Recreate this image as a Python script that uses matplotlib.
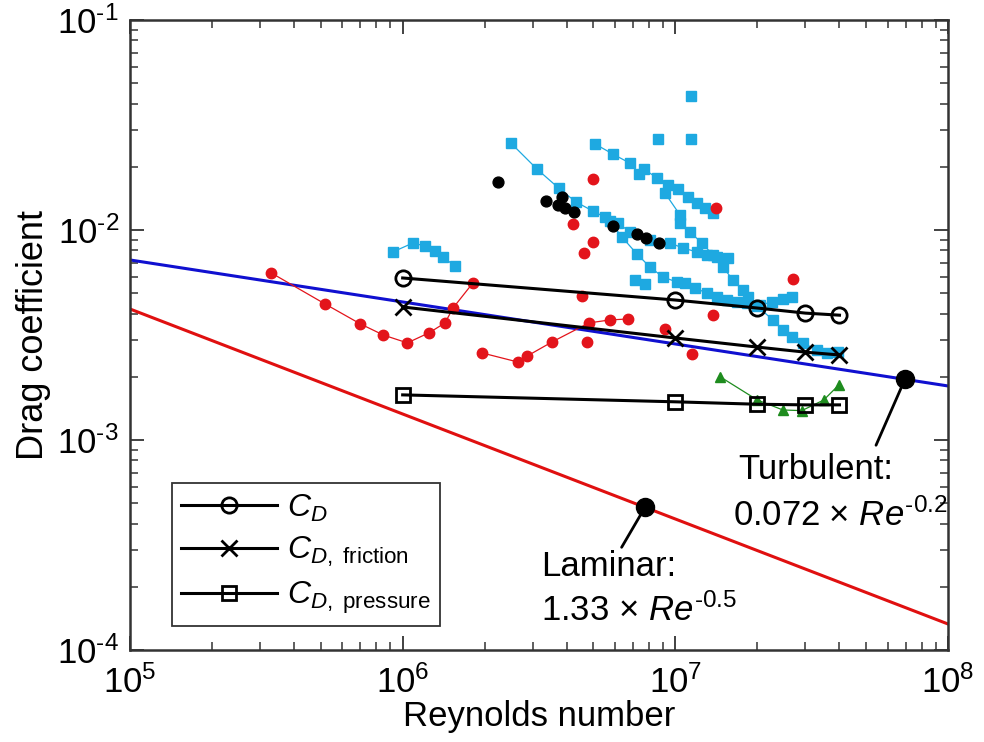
import numpy as np
import matplotlib
matplotlib.use('Agg')
import matplotlib.pyplot as plt
from matplotlib.ticker import LogLocator, FuncFormatter, NullFormatter

plt.rcParams['font.family'] = ['Liberation Sans', 'DejaVu Sans']
plt.rcParams['mathtext.fontset'] = 'custom'
plt.rcParams['mathtext.rm'] = 'Liberation Sans'
plt.rcParams['mathtext.it'] = 'Liberation Sans:italic'
plt.rcParams['mathtext.bf'] = 'Liberation Sans:bold'

# ---------------- data ----------------
re_cd = [1e6, 1e7, 2e7, 3e7, 4e7]
cd_total = [5.91e-3, 4.64e-3, 4.25e-3, 4.02e-3, 3.93e-3]
cd_friction = [4.30e-3, 3.06e-3, 2.77e-3, 2.62e-3, 2.54e-3]
cd_pressure = [1.64e-3, 1.52e-3, 1.48e-3, 1.47e-3, 1.47e-3]

# theory lines
re_range = [1e5, 1e8]
turb_coef, turb_exp = 0.072, -0.2
lam_coef, lam_exp = 1.33, -0.5
re_turb_mark = 6.95e7
re_lam_mark = 7.74e6

# red circles (connected series)
red_a_re = [3.3e5, 5.2e5, 7.0e5, 8.5e5, 1.04e6, 1.25e6, 1.43e6, 1.53e6, 1.81e6]
red_a_cd = [6.24e-3, 4.44e-3, 3.57e-3, 3.16e-3, 2.90e-3, 3.24e-3, 3.61e-3, 4.25e-3, 5.6e-3]
red_b_re = [1.95e6, 2.65e6, 2.86e6, 3.53e6, 4.82e6, 5.75e6, 6.70e6]
red_b_cd = [2.60e-3, 2.35e-3, 2.51e-3, 2.93e-3, 3.61e-3, 3.73e-3, 3.77e-3]
# red circles (isolated)
red_c_re = [4.99e6, 4.21e6, 4.99e6, 4.62e6, 4.54e6, 4.74e6, 9.16e6, 1.15e7, 1.37e7, 1.41e7, 2.70e7]
red_c_cd = [1.75e-2, 1.07e-2, 8.77e-3, 7.77e-3, 4.85e-3, 2.93e-3, 3.38e-3, 2.57e-3, 3.94e-3, 1.27e-2, 5.84e-3]

# black filled circles
blk_re = [2.24e6, 3.35e6, 3.84e6, 3.71e6, 3.94e6, 4.25e6, 5.90e6, 7.23e6, 7.80e6, 8.71e6]
blk_cd = [1.69e-2, 1.37e-2, 1.44e-2, 1.32e-2, 1.27e-2, 1.22e-2, 1.04e-2, 9.57e-3, 9.16e-3, 8.67e-3]

# green triangles
grn_re = [1.46e7, 2.0e7, 2.48e7, 2.91e7, 3.5e7, 3.98e7]
grn_cd = [2.0e-3, 1.55e-3, 1.39e-3, 1.38e-3, 1.55e-3, 1.83e-3]

# cyan squares
cy1_re = [9.2e5, 1.09e6, 1.21e6, 1.31e6, 1.41e6, 1.55e6]
cy1_cd = [7.86e-3, 8.67e-3, 8.39e-3, 7.94e-3, 7.43e-3, 6.74e-3]
cy2_re = [2.49e6, 3.11e6, 3.74e6, 4.32e6, 4.99e6, 5.52e6, 6.16e6, 6.82e6, 8.07e6, 9.55e6,
          1.066e7, 1.20e7, 1.306e7, 1.42e7, 1.56e7]
cy2_cd = [2.60e-2, 1.95e-2, 1.58e-2, 1.36e-2, 1.23e-2, 1.15e-2, 1.08e-2, 9.78e-3, 8.96e-3, 8.67e-3,
          8.21e-3, 7.86e-3, 7.60e-3, 7.43e-3, 7.35e-3]
cy3_re = [5.07e6, 5.90e6, 6.82e6, 7.36e6, 7.67e6, 8.56e6, 9.40e6, 1.022e7, 1.112e7, 1.20e7, 1.284e7, 1.374e7]
cy3_cd = [2.57e-2, 2.30e-2, 2.08e-2, 1.85e-2, 1.95e-2, 1.77e-2, 1.64e-2, 1.57e-2, 1.44e-2, 1.34e-2, 1.27e-2, 1.21e-2]
cy4_re = [9.16e6, 1.04e7, 1.04e7, 1.131e7, 1.252e7, 1.374e7, 1.495e7, 1.627e7, 1.77e7, 1.846e7,
          1.99e7, 2.28e7, 2.48e7, 2.68e7, 2.94e7, 3.31e7, 3.60e7, 3.95e7]
cy4_cd = [1.50e-2, 1.18e-2, 1.08e-2, 9.78e-3, 8.67e-3, 7.60e-3, 6.66e-3, 5.78e-3, 5.18e-3, 4.80e-3,
          4.35e-3, 3.73e-3, 3.34e-3, 3.09e-3, 2.90e-3, 2.68e-3, 2.60e-3, 2.62e-3]
cy5_re = [5.76e6, 6.37e6, 7.23e6, 8.07e6, 9.01e6, 1.014e7, 1.084e7, 1.18e7, 1.306e7, 1.42e7,
          1.546e7, 1.683e7, 1.83e7, 2.04e7, 2.26e7, 2.48e7, 2.68e7]
cy5_cd = [1.10e-2, 9.26e-3, 7.69e-3, 6.66e-3, 5.97e-3, 5.65e-3, 5.59e-3, 5.29e-3, 5.01e-3, 4.80e-3,
          4.64e-3, 4.54e-3, 4.49e-3, 4.39e-3, 4.54e-3, 4.69e-3, 4.80e-3]
cy6_re = [7.11e6, 7.74e6]
cy6_cd = [5.78e-3, 5.53e-3]
cy7_re = [1.141e7, 8.64e6, 1.141e7]
cy7_cd = [4.35e-2, 2.71e-2, 2.71e-2]

# ---------------- plot ----------------
fig = plt.figure(figsize=(9.84, 7.42), dpi=100)
ax = fig.add_axes([130/984, 92/742, 818/984, 630/742])
ax.set_xscale('log')
ax.set_yscale('log')
ax.set_xlim(1e5, 1e8)
ax.set_ylim(1e-4, 1e-1)

re_r = np.array(re_range)
ax.plot(re_r, turb_coef * re_r**turb_exp, color='#1010d0', lw=2.2, zorder=2)
ax.plot(re_r, lam_coef * re_r**lam_exp, color='#e01010', lw=2.2, zorder=2)

cyan = '#1ea9e1'
for xs, ys in [(cy1_re, cy1_cd), (cy2_re, cy2_cd), (cy3_re, cy3_cd), (cy4_re, cy4_cd),
               (cy5_re, cy5_cd), (cy6_re, cy6_cd)]:
    ax.plot(xs, ys, '-', color=cyan, lw=0.9, marker='s', ms=7.8, mec=cyan, mfc=cyan, zorder=3)
ax.plot(cy7_re, cy7_cd, 's', color=cyan, ms=7.8, zorder=3, ls='none')

red = '#e3141b'
ax.plot(red_a_re, red_a_cd, '-', color=red, lw=0.9, marker='o', ms=7.5, mec=red, mfc=red, zorder=4)
ax.plot(red_b_re, red_b_cd, '-', color=red, lw=0.9, marker='o', ms=7.5, mec=red, mfc=red, zorder=4)
ax.plot(red_c_re, red_c_cd, 'o', color=red, ms=7.5, ls='none', zorder=4)

ax.plot(blk_re, blk_cd, 'o', color='black', ms=7.8, ls='none', zorder=5)

green = '#1e8c1e'
ax.plot(grn_re, grn_cd, '-', color=green, lw=0.9, marker='^', ms=7, mec=green, mfc=green, zorder=4)

ax.plot(re_cd, cd_total, '-', color='black', lw=2.2, marker='o', ms=11, mfc='none', mew=2, zorder=6,
        label=r'$C_D$')
ax.plot(re_cd, cd_friction, '-', color='black', lw=2.2, marker='x', ms=12, mew=2, zorder=6,
        label=r'$C_{D\mathrm{,\ friction}}$')
ax.plot(re_cd, cd_pressure, '-', color='black', lw=2.2, marker='s', ms=9.5, mfc='none', mew=2, zorder=6,
        label=r'$C_{D\mathrm{,\ pressure}}$')

# annotation markers
turb_y = turb_coef * re_turb_mark**turb_exp
lam_y = lam_coef * re_lam_mark**lam_exp
ax.plot([re_turb_mark], [turb_y], 'o', color='black', ms=13, zorder=7, clip_on=False)
ax.plot([re_lam_mark], [lam_y], 'o', color='black', ms=13, zorder=7)
ax.annotate('', xy=(re_turb_mark, turb_y), xytext=(0.912, 0.325), textcoords='axes fraction',
            arrowprops=dict(arrowstyle='-', color='black', lw=2, shrinkA=0, shrinkB=0), zorder=7)
ax.annotate('', xy=(re_lam_mark, lam_y), xytext=(0.601, 0.163), textcoords='axes fraction',
            arrowprops=dict(arrowstyle='-', color='black', lw=2, shrinkA=0, shrinkB=0), zorder=7)

tfs = 25
ax.text(0.743, 0.286, 'Turbulent:', transform=ax.transAxes, fontsize=tfs, va='center', ha='left')
ax.text(0.737, 0.214, r'0.072 × $Re^{\text{-0.2}}$', transform=ax.transAxes, fontsize=tfs, va='center', ha='left')
ax.text(0.502, 0.132, 'Laminar:', transform=ax.transAxes, fontsize=tfs, va='center', ha='left')
ax.text(0.502, 0.063, r'1.33 × $Re^{\text{-0.5}}$', transform=ax.transAxes, fontsize=tfs, va='center', ha='left')

# ticks
ax.xaxis.set_major_locator(LogLocator(base=10, numticks=10))
ax.yaxis.set_major_locator(LogLocator(base=10, numticks=10))
ax.xaxis.set_minor_locator(LogLocator(base=10, subs=np.arange(2, 10), numticks=20))
ax.yaxis.set_minor_locator(LogLocator(base=10, subs=np.arange(2, 10), numticks=20))
fmt = FuncFormatter(lambda v, p: r'$10^{\text{%d}}$' % int(round(np.log10(v))))
ax.xaxis.set_major_formatter(fmt)
ax.yaxis.set_major_formatter(fmt)
ax.xaxis.set_minor_formatter(NullFormatter())
ax.yaxis.set_minor_formatter(NullFormatter())
ax.tick_params(which='both', direction='in', top=True, right=True, labelsize=25, color='#333333')
ax.tick_params(which='major', length=10, width=1.3)
ax.tick_params(which='minor', length=6, width=1.1)
ax.tick_params(axis='x', pad=11)
ax.tick_params(axis='y', pad=8)
for s in ax.spines.values():
    s.set_linewidth(1.8)
    s.set_color('#333333')

ax.set_xlabel('Reynolds number', fontsize=25, labelpad=0)
ax.set_ylabel('Drag coefficient', fontsize=26, labelpad=4)

leg = ax.legend(loc='lower left', bbox_to_anchor=(0.051, 0.038), borderaxespad=0, fontsize=23,
                frameon=True, fancybox=False, edgecolor='#333333', framealpha=1,
                handlelength=3.0, handletextpad=0.3, labelspacing=0.35, borderpad=0.3)
leg.get_frame().set_linewidth(1.3)

fig.savefig('out.png', dpi=100)
